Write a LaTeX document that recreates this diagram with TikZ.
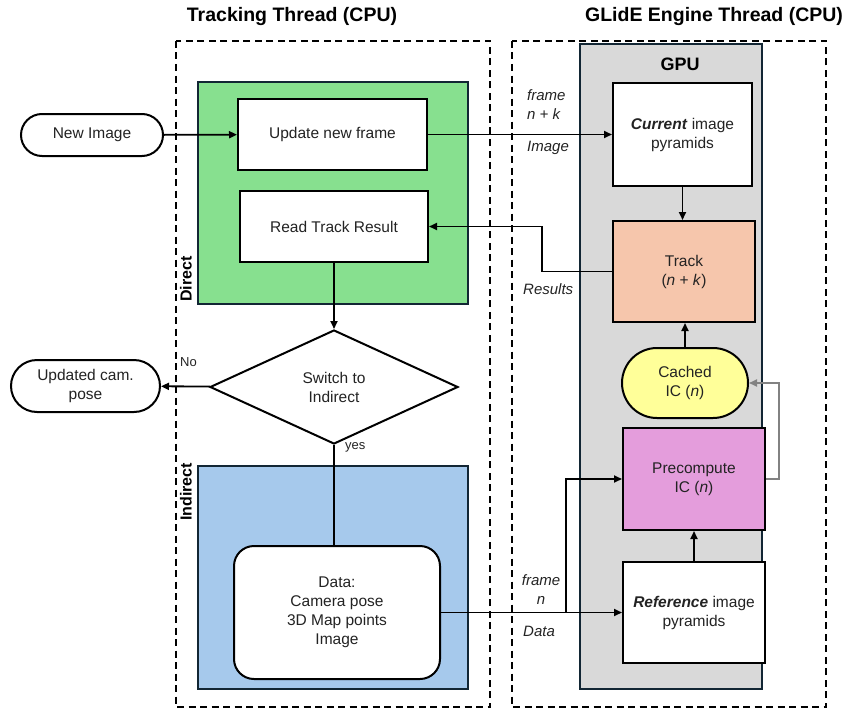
\documentclass[tikz,border=0pt]{standalone}
\usepackage{fontspec}
\setmainfont{Liberation Sans}
\usepackage{tikz}
\usetikzlibrary{arrows.meta,shapes.geometric}
\definecolor{vert}{RGB}{135,224,143}
\definecolor{bleu}{RGB}{166,201,236}
\definecolor{gris}{RGB}{217,217,217}
\definecolor{peche}{RGB}{246,198,172}
\definecolor{jaune}{RGB}{255,255,153}
\definecolor{rose}{RGB}{228,157,220}
\definecolor{marine}{RGB}{18,38,52}
\definecolor{texte}{RGB}{35,35,35}
\definecolor{grisfleche}{RGB}{130,130,130}

\begin{document}
\begin{tikzpicture}[x=1pt,y=-1pt,
		txt/.style={font=\fontsize{15.5}{19}\selectfont,text=texte,align=center},
		boite/.style={txt,draw=black,line width=2pt,fill=white,inner sep=0pt},
		pilule/.style={boite,rounded corners=#1},
		zone/.style={draw=marine,line width=2pt},
		cadre/.style={line width=1.8pt,dash pattern=on 7pt off 4.5pt},
		etiq/.style={font=\fontsize{15}{19}\selectfont\itshape,text=texte},
		titre/.style={font=\fontsize{19.5}{22}\selectfont\bfseries},
		fleche/.style={line width=1.8pt,-{Triangle[length=8pt,width=7pt]}}]
				\useasboundingbox (0,0) rectangle (851,717);
				% cadres des threads
				\draw[cadre] (176,41) rectangle (490,707);
				\draw[cadre] (512,41) rectangle (826,707);
				\node[titre] (ttrack) at (292,17) {Tracking Thread (CPU)};
				\node[titre] (tglide) at (714,17) {GLidE Engine Thread (CPU)};
				% zones colorees
				\draw[zone,fill=gris] (580,44) rectangle (762,689);
				\draw[zone,fill=vert] (198,82) rectangle (468,304);
				\draw[zone,fill=bleu] (198,466) rectangle (468,689);
				\node[titre,font=\fontsize{18}{20}\selectfont\bfseries] (tgpu) at (680,64) {GPU};
				\node[font=\fontsize{16}{18}\selectfont\bfseries,rotate=90,anchor=west,inner sep=0pt] (tdirect) at (186,302) {Direct};
				\node[font=\fontsize{16}{18}\selectfont\bfseries,rotate=90,anchor=east,inner sep=0pt] (tindirect) at (186,463) {Indirect};
				% noeuds
				\node[pilule=21pt,minimum width=142pt,minimum height=42pt] (newimg) at (92,135) {New Image};
				\node[boite,minimum width=189pt,minimum height=71pt] (upd) at (332.5,134.5) {Update new frame};
				\node[boite,minimum width=188pt,minimum height=71pt] (readtr) at (334,226.5) {Read Track Result};
				\node[boite,shape=diamond,minimum width=248pt,minimum height=114pt] (switch) at (334,387) {Switch to\\Indirect};
				\node[pilule=26pt,minimum width=149pt,minimum height=52pt] (updpose) at (85.5,386) {Updated cam.\\pose};
				\node[pilule=20pt,minimum width=206pt,minimum height=133pt] (data) at (337,612.5) {Data:\\Camera pose\\3D Map points\\Image};
				\node[boite,minimum width=139pt,minimum height=103pt] (cur) at (682.5,134.5) {\textbf{\textit{Current}} image\\pyramids};
				\node[boite,fill=peche,minimum width=142pt,minimum height=101pt] (track) at (684,271.5) {Track\\(\textit{n} + \textit{k})};
				\node[pilule=35pt,fill=jaune,minimum width=126pt,minimum height=70pt] (cached) at (685,383) {Cached\\IC (\textit{n})};
				\node[boite,fill=rose,minimum width=142pt,minimum height=102pt] (precomp) at (694,479) {Precompute\\IC (\textit{n})};
				\node[boite,minimum width=142pt,minimum height=101pt] (refp) at (694,612.5) {\textbf{\textit{Reference}} image\\pyramids};
				% liaisons
				\draw[fleche] (newimg) -- (upd);
				\draw[fleche] (upd) -- (cur);
				\draw[fleche] (cur.south) -- (cur.south |- track.north);
				\draw[fleche] (track.west) -- ++(-70,0) |- (readtr.east);
				\draw[fleche] (readtr) -- (switch);
				\draw[fleche] (switch) -- (updpose);
				\draw[line width=1.8pt] (switch.south) -- (switch.south |- data.north);
				\draw[fleche] (data) -- (refp);
				\coordinate (embr) at (566,612.5);
				\draw[fleche] (embr) |- (precomp.west);
				\draw[fleche] (refp) -- (precomp);
				\draw[fleche,grisfleche] (precomp.east) -- ++(13,0) |- (cached.east);
				\draw[fleche] (cached) -- (cached |- track.south);
				% etiquettes
				\node[etiq,align=left,anchor=north west,inner sep=0pt] (lfk) at (527,89) {frame\\\textit{n} + \textit{k}};
				\node[etiq,anchor=west,inner sep=0pt] (limg) at (527,148) {Image};
				\node[etiq,anchor=west,inner sep=0pt] (lres) at (523,289) {Results};
				\node[etiq,align=center,inner sep=0pt] (lfn) at (541,590) {frame\\\textit{n}};
				\node[etiq,anchor=west,inner sep=0pt] (ldata) at (523,631) {Data};
				\node[txt,font=\fontsize{13}{15}\selectfont,anchor=west,inner sep=0pt] (lno) at (180,362) {No};
				\node[txt,font=\fontsize{13}{15}\selectfont,anchor=west,inner sep=0pt] (lyes) at (345,447) {yes};
			\end{tikzpicture}
\end{document}
